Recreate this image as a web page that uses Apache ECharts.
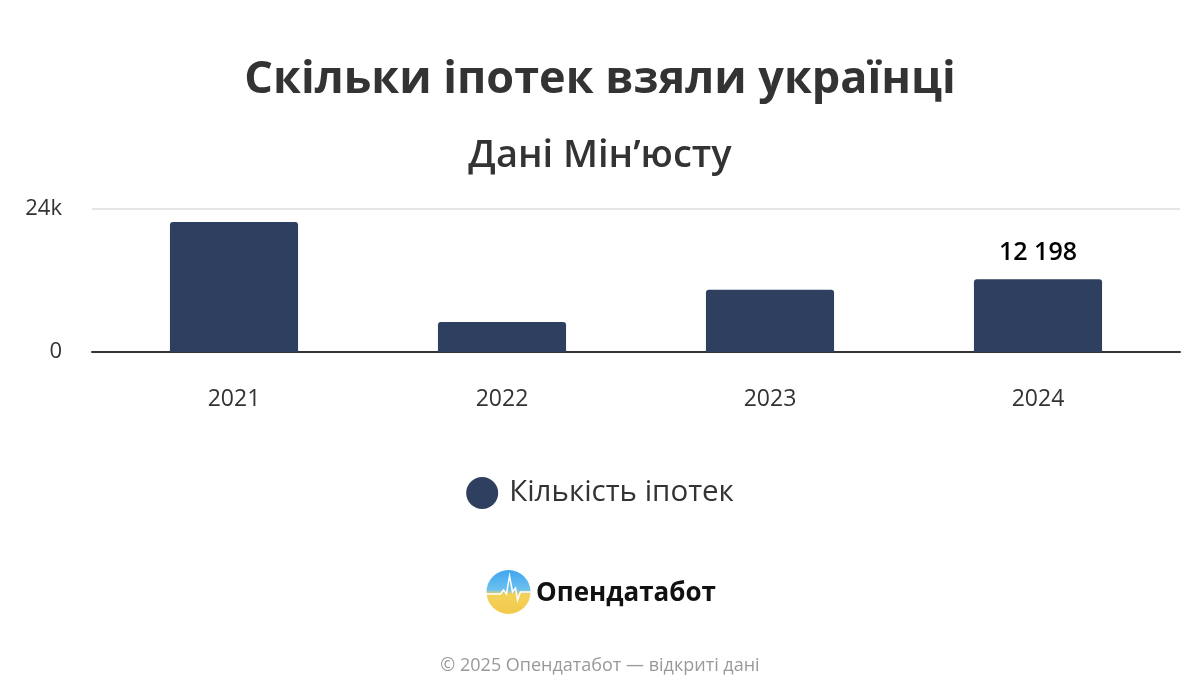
<!DOCTYPE html>
<html>
<head>
<meta charset="utf-8">
<script src="https://cdn.jsdelivr.net/npm/echarts@6/dist/echarts.min.js"></script>
<style>
  html, body { margin: 0; padding: 0; background: #fff; }
  #chart { width: 1200px; height: 700px; }
</style>
</head>
<body>
<div id="chart"></div>
<script>
const years = ['2021', '2022', '2023', '2024'];
const mortgages = [21800, 5050, 10450, 12198];
const yTicks = [0, 24000];
const seriesName = 'Кількість іпотек';

const FONT = '"Open Sans", "Noto Sans", sans-serif';
const BAR = '#2f3f5f';

let chart = echarts.init(document.getElementById('chart'));

// label only the last bar, like the original
const barData = mortgages.map((v, i) => {
  let item = { value: v };
  if (i === mortgages.length - 1) {
    item.label = {
      show: true,
      position: 'top',
      distance: 14,
      color: '#000',
      fontSize: 25,
      fontWeight: 600,
      fontFamily: FONT,
      formatter: (p) => String(p.value).replace(/\B(?=(\d{3})+(?!\d))/g, ' '),
    };
  }
  return item;
});

let option = {
  backgroundColor: '#fff',
  animation: false,
  title: [
    {
      text: 'Скільки іпотек взяли українці',
      left: 'center',
      top: 53,
      textStyle: { fontFamily: FONT, fontSize: 45, fontWeight: 700, color: '#333' },
    },
    {
      text: 'Дані Мін’юсту',
      left: 'center',
      top: 132,
      textStyle: { fontFamily: FONT, fontSize: 38, fontWeight: 600, color: '#333' },
    },
    {
      text: '© 2025 Опендатабот — відкриті дані',
      left: 'center',
      top: 652,
      textStyle: { fontFamily: FONT, fontSize: 18, fontWeight: 400, color: '#999' },
    },
  ],
  legend: {
    top: 472,
    left: 'center',
    icon: 'circle',
    itemWidth: 32,
    itemHeight: 32,
    itemGap: 10,
    textStyle: { fontFamily: FONT, fontSize: 29.5, color: '#333', padding: [0, 0, 0, 6] },
    data: [seriesName],
  },
  grid: [
    // frame: axis line and grid line run a bit wider than the bars
    { left: 92, right: 20, top: 209, bottom: 348 },
    { left: 100, right: 28, top: 209, bottom: 348 },
  ],
  xAxis: [
    {
      gridIndex: 0,
      type: 'category',
      data: years,
      axisLine: { lineStyle: { color: '#333', width: 2 } },
      axisTick: { show: false },
      axisLabel: { show: false },
    },
    {
      gridIndex: 1,
      type: 'category',
      data: years,
      axisLine: { show: false },
      axisTick: { show: false },
      axisLabel: {
        margin: 36,
        fontFamily: FONT,
        fontSize: 23,
        color: '#333',
      },
    },
  ],
  yAxis: [
    {
      gridIndex: 0,
      type: 'value',
      min: yTicks[0],
      max: yTicks[1],
      interval: yTicks[1] - yTicks[0],
      axisLine: { show: false },
      axisTick: { show: false },
      splitLine: { lineStyle: { color: '#e6e6e6', width: 2 } },
      axisLabel: {
        margin: 30,
        fontFamily: FONT,
        fontSize: 22,
        color: '#333',
        formatter: (v) => (v === 0 ? '0' : v / 1000 + 'k'),
      },
    },
    {
      gridIndex: 1,
      type: 'value',
      min: yTicks[0],
      max: yTicks[1],
      show: false,
      splitLine: { show: false },
    },
  ],
  series: [
    {
      name: seriesName,
      type: 'bar',
      xAxisIndex: 1,
      yAxisIndex: 1,
      barWidth: '47.8%',
      itemStyle: { color: BAR, borderRadius: [3, 3, 0, 0] },
      data: barData,
      z: 3,
    },
  ],
  graphic: [
    {
      type: 'group',
      left: 484,
      top: 570,
      children: [
        {
          type: 'circle',
          shape: { cx: 22, cy: 22, r: 22 },
          style: {
            fill: {
              type: 'linear', x: 0, y: 0, x2: 0, y2: 1,
              colorStops: [
                { offset: 0, color: '#3da6f0' },
                { offset: 0.45, color: '#6ec0ef' },
                { offset: 0.55, color: '#f3d258' },
                { offset: 1, color: '#f2c94c' },
              ],
            },
          },
        },
        {
          type: 'polyline',
          shape: {
            points: [[0, 24], [14, 24], [17, 20], [20, 24], [23, 6], [26, 22], [29, 18], [31, 30], [34, 22], [44, 22]],
          },
          style: { stroke: '#fff', lineWidth: 1.5, fill: null },
        },
      ],
    },
    {
      type: 'text',
      left: 536,
      top: 581,
      style: {
        text: 'Опендатабот',
        fontFamily: FONT,
        fontSize: 26,
        fontWeight: 700,
        fill: '#111',
      },
    },
  ],
};

chart.setOption(option);
</script>
</body>
</html>
